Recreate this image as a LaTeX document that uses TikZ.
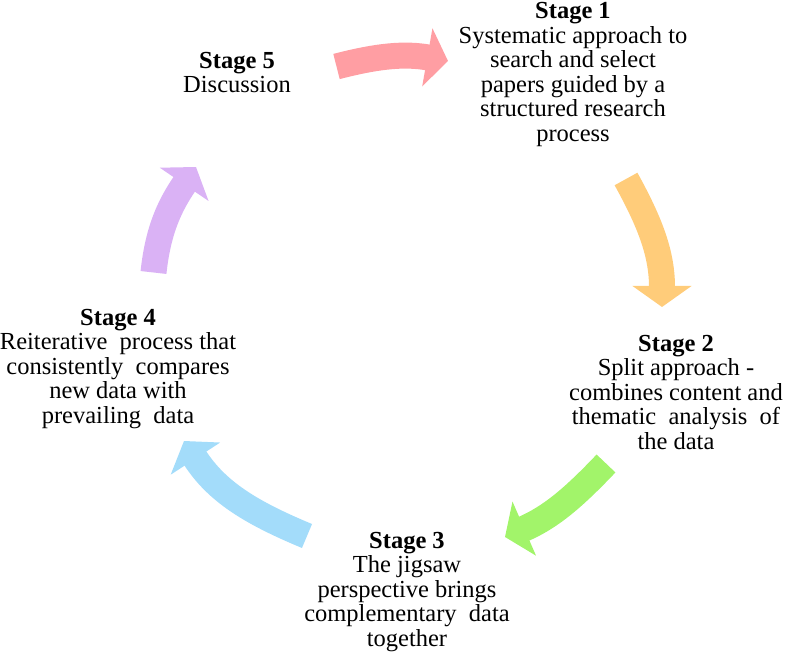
\documentclass[tikz,border=0pt]{standalone}
\usepackage{fontspec}
\setmainfont{Liberation Serif}
\usetikzlibrary{arrows.meta}

\definecolor{pinkarrow}{RGB}{255,158,163}
\definecolor{orangearrow}{RGB}{255,204,122}
\definecolor{greenarrow}{RGB}{162,244,106}
\definecolor{bluearrow}{RGB}{163,220,250}
\definecolor{purplearrow}{RGB}{218,178,245}

\tikzset{
  stagetext/.style={anchor=north, align=center, inner sep=0pt,
    font=\fontsize{24.5bp}{24.5bp}\selectfont},
  stagearrow/.style={line width=26bp, -{Triangle[length=21bp,width=58bp]}}
}

\begin{document}
\begin{tikzpicture}[x=1bp,y=1bp]
    \useasboundingbox (0,0) rectangle (787,655);
    % stage texts
    \node[stagetext] (s1) at (573,652.5) {\textbf{Stage 1}\\Systematic approach to\\search and select\\papers guided by a\\structured research\\process};
    \node[stagetext] (s2) at (676,320) {\textbf{Stage 2}\\Split approach -\\combines content and\\thematic\ \ analysis\ \ of\\the data};
    \node[stagetext] (s3) at (407,123) {\textbf{Stage 3}\\The jigsaw\\perspective brings\\complementary\ \ data\\together};
    \node[stagetext] (s4) at (118,346) {\textbf{Stage 4}\\Reiterative\ \ process that\\consistently\ \ compares\\new data with\\prevailing\ \ data};
    \node[stagetext] (s5) at (237,603) {\textbf{Stage 5}\\Discussion};
    % arrow ends
    \coordinate (a51) at (336.5,588.5);
    \coordinate (a15) at (448,594);
    \coordinate (a12) at (626,476);
    \coordinate (a21) at (662,348);
    \coordinate (a23) at (606,191.5);
    \coordinate (a32) at (505,118);
    \coordinate (a34) at (307,119);
    \coordinate (a43) at (184,214);
    \coordinate (a45) at (153.5,382.5);
    \coordinate (a54) at (196,488);
    % arrows
    \draw[stagearrow, pinkarrow] (a51) to[out=14.5, in=170] (a15);
    \draw[stagearrow, orangearrow] (a12) to[out=-61, in=90] (a21);
    \draw[stagearrow, greenarrow] (a23) to[out=226.5, in=23.5] (a32);
    \draw[stagearrow, bluearrow] (a34) to[out=157.4, in=-57] (a43);
    \draw[stagearrow, purplearrow] (a45) to[out=84, in=-124.3] (a54);
\end{tikzpicture}
\end{document}
